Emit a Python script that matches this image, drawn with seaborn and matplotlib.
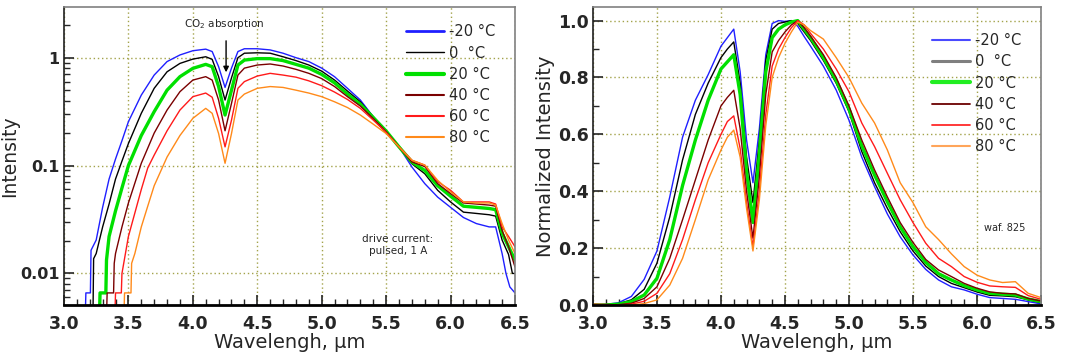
import numpy as np
import pandas as pd
import seaborn as sns
import matplotlib
matplotlib.use("Agg")
import matplotlib.pyplot as plt
from matplotlib.ticker import FixedLocator, FixedFormatter, MultipleLocator, LogLocator, NullFormatter
from matplotlib.lines import Line2D

# ---------------- data ----------------
temps = ["-20 °C", "0  °C", "20 °C", "40 °C", "60 °C", "80 °C"]
colors = ["#1f1fff", "#000000", "#00e000", "#7a0000", "#ff1a1a", "#ff8a1a"]
widths = [1.0, 1.0, 2.4, 1.0, 1.0, 1.0]

# Left panel: absolute intensity (log scale)
wl_m20 = [3.165, 3.17, 3.205, 3.21, 3.25, 3.3, 3.35, 3.4, 3.45, 3.5, 3.6, 3.7, 3.8, 3.9, 4.0, 4.1, 4.15, 4.2,
          4.25, 4.3, 4.35, 4.4, 4.5, 4.6, 4.7, 4.8, 4.9, 5.0, 5.1, 5.2, 5.3, 5.4, 5.5, 5.6, 5.7, 5.8, 5.9,
          6.0, 6.1, 6.2, 6.3, 6.35, 6.4, 6.43, 6.46, 6.5]
int_m20 = [0.004, 0.0066, 0.0066, 0.0164, 0.0204, 0.041, 0.075, 0.115, 0.17, 0.255, 0.45, 0.69, 0.92, 1.06,
           1.16, 1.2, 1.14, 0.825, 0.53, 0.80, 1.14, 1.21, 1.21, 1.18, 1.1, 1.0, 0.92, 0.80, 0.666, 0.52,
           0.405, 0.283, 0.206, 0.149, 0.097, 0.068, 0.051, 0.041, 0.033, 0.029, 0.027, 0.027, 0.0153,
           0.01, 0.0075, 0.0066]

wl_0 = [3.225, 3.23, 3.25, 3.3, 3.35, 3.4, 3.45, 3.5, 3.6, 3.7, 3.8, 3.9, 4.0, 4.1, 4.15, 4.2, 4.25, 4.3,
        4.35, 4.4, 4.5, 4.6, 4.7, 4.8, 4.9, 5.0, 5.1, 5.2, 5.3, 5.4, 5.5, 5.6, 5.7, 5.8, 5.9, 6.0, 6.1,
        6.2, 6.3, 6.35, 6.4, 6.45, 6.48, 6.5]
int_0 = [0.004, 0.0137, 0.0153, 0.027, 0.044, 0.075, 0.11, 0.16, 0.305, 0.52, 0.74, 0.885, 0.97, 1.02,
         0.965, 0.667, 0.405, 0.65, 1.0, 1.1, 1.11, 1.1, 1.02, 0.94, 0.855, 0.75, 0.62, 0.49, 0.39, 0.283,
         0.206, 0.149, 0.104, 0.084, 0.059, 0.046, 0.037, 0.036, 0.035, 0.034, 0.0204, 0.015, 0.01, 0.01]

wl_20 = [3.275, 3.28, 3.325, 3.33, 3.35, 3.4, 3.45, 3.5, 3.6, 3.7, 3.8, 3.9, 4.0, 4.1, 4.15, 4.2, 4.25, 4.3,
         4.35, 4.4, 4.5, 4.6, 4.7, 4.8, 4.9, 5.0, 5.1, 5.2, 5.3, 5.4, 5.5, 5.6, 5.7, 5.8, 5.9, 6.0, 6.1,
         6.2, 6.3, 6.35, 6.4, 6.45, 6.5]
int_20 = [0.004, 0.0066, 0.0066, 0.0133, 0.022, 0.038, 0.062, 0.1, 0.19, 0.316, 0.50, 0.667, 0.796, 0.867,
          0.825, 0.54, 0.294, 0.50, 0.855, 0.95, 0.98, 0.98, 0.94, 0.867, 0.80, 0.70, 0.584, 0.46, 0.37,
          0.279, 0.209, 0.149, 0.108, 0.09, 0.065, 0.052, 0.042, 0.041, 0.04, 0.039, 0.0236, 0.0177, 0.0133]

wl_40 = [3.33, 3.335, 3.385, 3.39, 3.4, 3.45, 3.5, 3.6, 3.7, 3.8, 3.9, 4.0, 4.1, 4.15, 4.2, 4.25, 4.3, 4.35,
         4.4, 4.5, 4.6, 4.7, 4.8, 4.9, 5.0, 5.1, 5.2, 5.3, 5.4, 5.5, 5.6, 5.7, 5.8, 5.9, 6.0, 6.1, 6.2,
         6.3, 6.35, 6.4, 6.45, 6.5]
int_40 = [0.004, 0.0066, 0.0066, 0.0124, 0.0153, 0.027, 0.045, 0.105, 0.2, 0.327, 0.484, 0.62, 0.667, 0.62,
          0.405, 0.21, 0.377, 0.69, 0.80, 0.855, 0.874, 0.837, 0.78, 0.716, 0.64, 0.54, 0.435, 0.356,
          0.273, 0.206, 0.149, 0.108, 0.098, 0.068, 0.055, 0.045, 0.044, 0.043, 0.042, 0.025, 0.0177, 0.0115]

wl_60 = [3.395, 3.4, 3.445, 3.45, 3.5, 3.6, 3.65, 3.7, 3.8, 3.9, 4.0, 4.1, 4.15, 4.2, 4.25, 4.3, 4.35, 4.4,
         4.5, 4.6, 4.7, 4.8, 4.9, 5.0, 5.1, 5.2, 5.3, 5.4, 5.5, 5.6, 5.7, 5.8, 5.9, 6.0, 6.1, 6.2, 6.3,
         6.35, 6.4, 6.45, 6.5]
int_60 = [0.004, 0.0066, 0.0066, 0.01, 0.022, 0.06, 0.095, 0.125, 0.21, 0.327, 0.435, 0.47, 0.43, 0.274,
          0.149, 0.264, 0.52, 0.60, 0.676, 0.716, 0.69, 0.66, 0.61, 0.55, 0.48, 0.41, 0.339, 0.264, 0.203,
          0.149, 0.112, 0.101, 0.071, 0.059, 0.046, 0.046, 0.046, 0.044, 0.027, 0.022, 0.0177]

wl_80 = [3.465, 3.47, 3.52, 3.525, 3.55, 3.6, 3.65, 3.7, 3.8, 3.9, 4.0, 4.1, 4.15, 4.2, 4.25, 4.3, 4.35, 4.4,
         4.5, 4.6, 4.7, 4.8, 4.9, 5.0, 5.1, 5.2, 5.3, 5.4, 5.5, 5.6, 5.7, 5.8, 5.9, 6.0, 6.1, 6.2, 6.3,
         6.35, 6.4, 6.45, 6.5]
int_80 = [0.004, 0.0066, 0.0066, 0.0124, 0.0153, 0.027, 0.042, 0.065, 0.12, 0.19, 0.274, 0.339, 0.305,
          0.198, 0.105, 0.198, 0.405, 0.46, 0.52, 0.54, 0.53, 0.50, 0.47, 0.435, 0.39, 0.345, 0.294, 0.242,
          0.198, 0.149, 0.112, 0.101, 0.073, 0.057, 0.046, 0.045, 0.045, 0.043, 0.029, 0.0204, 0.0153]

# Right panel: normalized intensity (common wavelength grid)
wl_norm = [3.0, 3.1, 3.2, 3.3, 3.4, 3.5, 3.6, 3.7, 3.8, 3.9, 4.0, 4.05, 4.1, 4.15, 4.2, 4.25, 4.3, 4.35,
           4.4, 4.45, 4.5, 4.55, 4.6, 4.65, 4.7, 4.8, 4.9, 5.0, 5.1, 5.2, 5.3, 5.4, 5.5, 5.6, 5.7, 5.8,
           5.9, 6.0, 6.1, 6.2, 6.3, 6.4, 6.5]
norm_m20 = [0.0, 0.002, 0.008, 0.03, 0.09, 0.19, 0.38, 0.59, 0.72, 0.81, 0.91, 0.94, 0.97, 0.82, 0.58,
            0.43, 0.62, 0.88, 0.99, 1.0, 0.997, 1.0, 0.98, 0.944, 0.91, 0.84, 0.756, 0.65, 0.52, 0.416,
            0.32, 0.24, 0.176, 0.125, 0.088, 0.064, 0.053, 0.038, 0.026, 0.023, 0.020, 0.012, 0.004]
norm_0 = [0.0, 0.001, 0.005, 0.018, 0.055, 0.147, 0.31, 0.51, 0.67, 0.78, 0.87, 0.90, 0.925, 0.78, 0.52,
          0.36, 0.58, 0.86, 0.97, 0.99, 0.995, 1.0, 0.99, 0.96, 0.93, 0.86, 0.78, 0.68, 0.54, 0.43, 0.34,
          0.258, 0.19, 0.137, 0.10, 0.076, 0.061, 0.046, 0.034, 0.032, 0.029, 0.018, 0.008]
norm_20 = [0.0, 0.0, 0.003, 0.012, 0.035, 0.094, 0.23, 0.42, 0.58, 0.72, 0.83, 0.855, 0.88, 0.74, 0.47,
           0.29, 0.53, 0.82, 0.94, 0.97, 0.985, 0.995, 1.0, 0.97, 0.94, 0.87, 0.79, 0.69, 0.56, 0.457,
           0.363, 0.275, 0.205, 0.15, 0.11, 0.088, 0.068, 0.053, 0.041, 0.038, 0.035, 0.021, 0.012]
norm_40 = [0.0, 0.0, 0.001, 0.006, 0.023, 0.064, 0.164, 0.30, 0.44, 0.58, 0.70, 0.73, 0.755, 0.62, 0.40,
           0.235, 0.45, 0.74, 0.89, 0.93, 0.96, 0.985, 1.0, 0.975, 0.945, 0.88, 0.80, 0.70, 0.58, 0.475,
           0.38, 0.29, 0.22, 0.16, 0.123, 0.10, 0.076, 0.059, 0.046, 0.041, 0.039, 0.023, 0.014]
norm_60 = [0.003, 0.002, 0.0, 0.003, 0.013, 0.041, 0.11, 0.23, 0.37, 0.50, 0.60, 0.645, 0.665, 0.55, 0.36,
           0.205, 0.40, 0.67, 0.84, 0.90, 0.94, 0.975, 1.0, 0.985, 0.955, 0.90, 0.83, 0.75, 0.64, 0.557,
           0.463, 0.37, 0.29, 0.217, 0.164, 0.135, 0.10, 0.08, 0.067, 0.064, 0.062, 0.033, 0.02]
norm_80 = [0.0, 0.0, 0.0, 0.0, 0.005, 0.018, 0.07, 0.164, 0.30, 0.44, 0.545, 0.59, 0.615, 0.52, 0.34,
           0.19, 0.37, 0.63, 0.80, 0.87, 0.92, 0.96, 0.995, 0.985, 0.965, 0.935, 0.87, 0.80, 0.71, 0.64,
           0.545, 0.43, 0.36, 0.275, 0.23, 0.18, 0.135, 0.105, 0.088, 0.079, 0.082, 0.041, 0.026]

left_wl = [wl_m20, wl_0, wl_20, wl_40, wl_60, wl_80]
left_int = [int_m20, int_0, int_20, int_40, int_60, int_80]
right_norm = [norm_m20, norm_0, norm_20, norm_40, norm_60, norm_80]

# ---------------- style ----------------
sns.set_style("ticks")
plt.rcParams["font.family"] = ["DejaVu Sans"]
grid_color = "#a3a34a"

fig = plt.figure(figsize=(10.68, 3.63), dpi=100)
axL = fig.add_axes([0.0599, 0.1598, 0.4223, 0.8218])
axR = fig.add_axes([0.5552, 0.1598, 0.4195, 0.8218])

for i, t in enumerate(temps):
    dfL = pd.DataFrame({"wl": left_wl[i], "val": left_int[i]})
    sns.lineplot(data=dfL, x="wl", y="val", ax=axL, color=colors[i], lw=widths[i],
                 sort=False, estimator=None, label=t)
    dfR = pd.DataFrame({"wl": wl_norm, "val": right_norm[i]})
    sns.lineplot(data=dfR, x="wl", y="val", ax=axR, color=colors[i], lw=widths[i],
                 sort=False, estimator=None, label=t)

axL.set_yscale("log")
axL.set_ylim(0.0051, 2.97)
axR.set_ylim(0, 1.049)
xt = np.arange(3.0, 6.51, 0.5)
for ax in (axL, axR):
    ax.set_xlim(3.0, 6.5)
    ax.xaxis.set_minor_locator(MultipleLocator(0.1))
    ax.set_xticks(xt)
    ax.set_xticklabels([f"{v:.1f}" for v in xt], fontweight="bold", fontsize=12.5)
    ax.tick_params(axis="both", which="major", direction="in", length=7, width=1.2,
                   top=False, right=False)
    ax.tick_params(axis="x", which="major", pad=7)
    ax.tick_params(axis="y", which="major", pad=3)
    ax.tick_params(axis="both", which="minor", direction="in", length=4, width=1.0,
                   top=False, right=False)
    ax.grid(True, which="major", color=grid_color, linestyle=(0, (1, 2)), linewidth=1.0)
    ax.set_xlabel("Wavelengh, µm", fontsize=14, labelpad=0)
    for s in ("top", "right"):
        ax.spines[s].set_color("#808080")
        ax.spines[s].set_linewidth(1.2)
    ax.spines["left"].set_color("#202020")
    ax.spines["left"].set_linewidth(1.2)
    ax.spines["bottom"].set_color("black")
    ax.spines["bottom"].set_linewidth(2.0)

axL.yaxis.set_major_locator(FixedLocator([0.01, 0.1, 1]))
axL.yaxis.set_major_formatter(FixedFormatter(["0.01", "0.1", "1"]))
axL.yaxis.set_minor_locator(LogLocator(base=10, subs=np.arange(2, 10) * 1.0, numticks=20))
axL.yaxis.set_minor_formatter(NullFormatter())
for lab in axL.get_yticklabels():
    lab.set_fontweight("bold")
    lab.set_fontsize(11.5)
axL.set_ylabel("Intensity", fontsize=13.5, labelpad=1)

axR.yaxis.set_minor_locator(MultipleLocator(0.1))
axR.set_yticks([0, 0.2, 0.4, 0.6, 0.8, 1.0])
axR.set_yticklabels(["0.0", "0.2", "0.4", "0.6", "0.8", "1.0"], fontweight="bold", fontsize=12.5)
axR.set_ylabel("Normalized Intensity", fontsize=14, labelpad=2)

# legends
hL, lL = axL.get_legend_handles_labels()
legL = axL.legend(hL, lL, loc="upper right", bbox_to_anchor=(0.975, 0.97), frameon=False,
                  fontsize=10.5, handlelength=2.6, handletextpad=0.3, labelspacing=0.42, borderaxespad=0.2)
for h, w in zip(legL.get_lines(), [2, 1, 3, 1.5, 1.5, 1.5]):
    h.set_linewidth(w)

legend_cols_R = ["#4a4aff", "#7f7f7f", "#22ee22", "#6b0000", "#ff2a2a", "#ffa55a"]
hR = [Line2D([0], [0], color=c, lw=w) for c, w in zip(legend_cols_R, [1.5, 2.2, 3, 1.3, 1.3, 1.5])]
axR.legend(hR, temps, loc="upper right", bbox_to_anchor=(0.975, 0.94), frameon=False,
           fontsize=10.5, handlelength=2.6, handletextpad=0.3, labelspacing=0.42, borderaxespad=0.2)

# annotations
axL.annotate("", xy=(4.258, 0.69), xytext=(4.258, 1.52),
             arrowprops=dict(arrowstyle="-|>", color="black", lw=1.0, mutation_scale=8))
axL.text(4.24, 2.05, "CO$_2$ absorption", fontsize=7.5, ha="center", va="center")
axL.text(5.59, 0.0183, "drive current:\npulsed, 1 A", fontsize=7.5, ha="center", va="center",
         linespacing=1.3)
axR.text(6.22, 0.27, "waf. 825", fontsize=7, ha="center", va="center")

fig.savefig("out.png", dpi=100)
